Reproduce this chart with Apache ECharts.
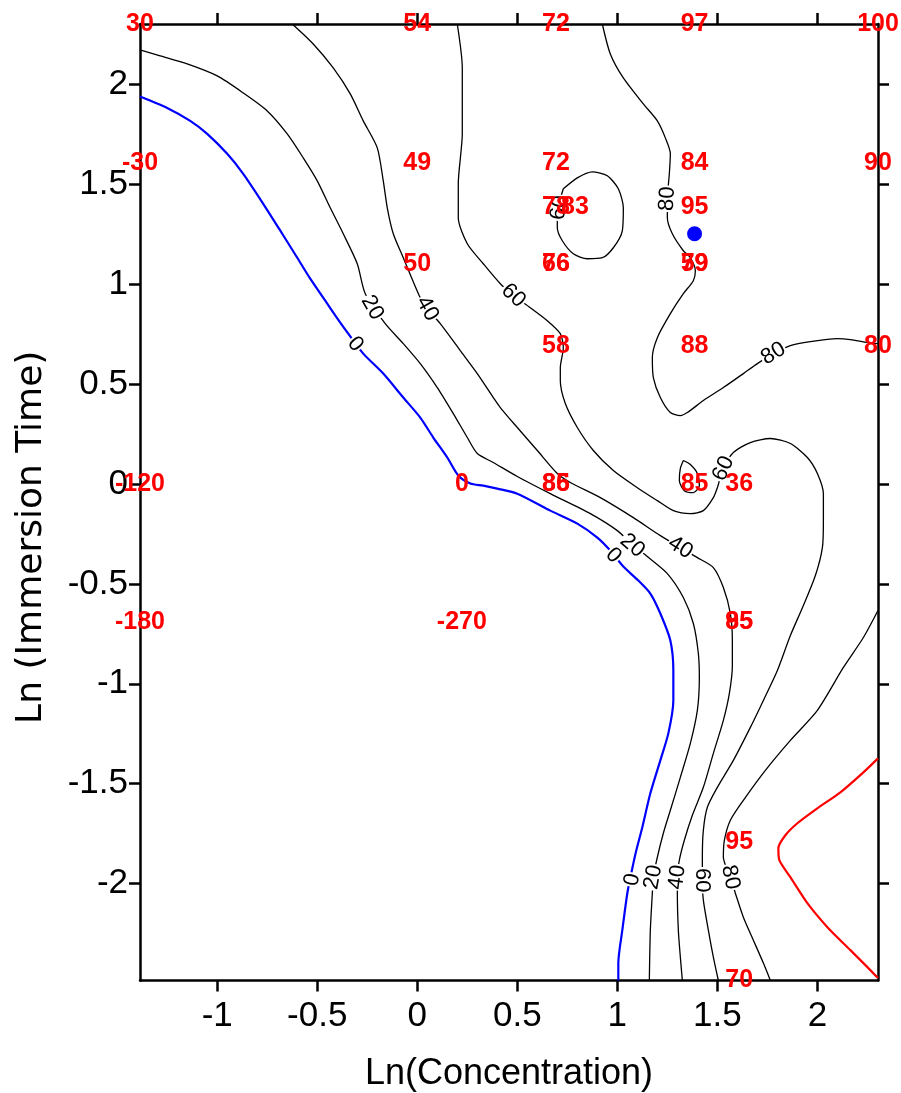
<!DOCTYPE html>
<html><head><meta charset="utf-8">
<script src="https://cdn.jsdelivr.net/npm/echarts@6/dist/echarts.min.js"></script>
<style>html,body{margin:0;padding:0;background:#fff}#c{width:901px;height:1093px}</style>
</head><body><div id="c"></div>
<script>
// ---- axes ----
const xRange = [-1.386, 2.303];
const yRange = [-2.485, 2.303];
const xTicks = [-1, -0.5, 0, 0.5, 1, 1.5, 2];
const yTicks = [-2, -1.5, -1, -0.5, 0, 0.5, 1, 1.5, 2];

// ---- contour lines (data units) ----
const c0 = [[-1.386,1.94],[-1.25,1.883],[-1.135,1.818],[-1.05,1.753],[-0.95,1.653],[-0.87,1.553],[-0.77,1.403],[-0.675,1.253],[-0.6,1.133],[-0.535,1.028],[-0.45,0.903],[-0.385,0.808],[-0.345,0.753],[-0.27,0.653],[-0.17,0.553],[-0.07,0.433],[0.015,0.333],[0.08,0.233],[0.15,0.133],[0.205,0.043],[0.265,0.003],[0.33,-0.008],[0.40,-0.023],[0.50,-0.048],[0.665,-0.133],[0.80,-0.198],[0.90,-0.268],[0.965,-0.333],[1.03,-0.413],[1.105,-0.483],[1.165,-0.548],[1.215,-0.648],[1.265,-0.783],[1.28,-0.933],[1.28,-1.083],[1.255,-1.248],[1.215,-1.383],[1.165,-1.548],[1.125,-1.718],[1.095,-1.833],[1.075,-1.923],[1.05,-2.048],[1.025,-2.233],[1.005,-2.398],[1.005,-2.485]];
const c20 = [[-1.386,2.173],[-1.285,2.143],[-1.15,2.103],[-1.0,2.043],[-0.87,1.958],[-0.75,1.868],[-0.65,1.753],[-0.57,1.633],[-0.5,1.518],[-0.435,1.383],[-0.37,1.253],[-0.30,1.103],[-0.26,0.953],[-0.16,0.803],[-0.07,0.703],[0.015,0.603],[0.10,0.483],[0.18,0.353],[0.25,0.233],[0.30,0.153],[0.38,0.108],[0.50,0.038],[0.665,-0.048],[0.865,-0.148],[1.0,-0.233],[1.075,-0.303],[1.15,-0.363],[1.25,-0.448],[1.33,-0.568],[1.38,-0.698],[1.405,-0.848],[1.41,-0.968],[1.40,-1.133],[1.365,-1.298],[1.315,-1.468],[1.265,-1.633],[1.23,-1.748],[1.20,-1.868],[1.18,-1.968],[1.175,-2.048],[1.165,-2.233],[1.16,-2.485]];
const c40 = [[-0.625,2.303],[-0.52,2.203],[-0.42,2.083],[-0.335,1.953],[-0.27,1.818],[-0.20,1.683],[-0.17,1.518],[-0.15,1.383],[-0.12,1.253],[-0.07,1.133],[0.01,0.943],[0.05,0.878],[0.115,0.803],[0.215,0.668],[0.30,0.553],[0.38,0.433],[0.415,0.383],[0.50,0.283],[0.60,0.168],[0.70,0.053],[0.765,0.008],[0.915,-0.068],[1.08,-0.168],[1.215,-0.258],[1.315,-0.318],[1.40,-0.368],[1.48,-0.418],[1.53,-0.518],[1.565,-0.648],[1.575,-0.783],[1.575,-0.908],[1.56,-1.048],[1.53,-1.183],[1.48,-1.348],[1.43,-1.518],[1.375,-1.658],[1.335,-1.783],[1.31,-1.883],[1.30,-1.968],[1.30,-2.048],[1.305,-2.233],[1.315,-2.368],[1.325,-2.485]];
const c60 = [[0.20,2.303],[0.225,2.083],[0.225,1.753],[0.205,1.503],[0.205,1.333],[0.25,1.203],[0.33,1.103],[0.415,1.003],[0.48,0.943],[0.565,0.883],[0.65,0.818],[0.715,0.753],[0.73,0.683],[0.715,0.583],[0.715,0.518],[0.74,0.403],[0.80,0.283],[0.88,0.168],[0.98,0.068],[1.10,-0.018],[1.20,-0.083],[1.28,-0.133],[1.365,-0.148],[1.43,-0.133],[1.48,-0.068],[1.50,-0.018],[1.53,0.078],[1.58,0.158],[1.665,0.208],[1.765,0.228],[1.865,0.203],[1.95,0.133],[2.0,0.053],[2.03,-0.048],[2.03,-0.183],[2.025,-0.318],[1.99,-0.458],[1.93,-0.608],[1.865,-0.758],[1.80,-0.933],[1.73,-1.083],[1.665,-1.218],[1.58,-1.383],[1.50,-1.518],[1.45,-1.618],[1.43,-1.733],[1.425,-1.868],[1.425,-1.983],[1.43,-2.083],[1.455,-2.233],[1.48,-2.368],[1.505,-2.485]];
const c60loop = [[0.73,1.478],[0.80,1.533],[0.875,1.563],[0.95,1.543],[1.005,1.478],[1.03,1.383],[1.025,1.268],[0.98,1.183],[0.925,1.133],[0.85,1.128],[0.78,1.153],[0.725,1.218],[0.70,1.283],[0.70,1.368],[0.715,1.428],[0.73,1.478]];
const c60small = [[1.33,0.118],[1.365,0.098],[1.40,0.053],[1.41,-0.008],[1.38,-0.043],[1.335,-0.033],[1.31,0.018],[1.315,0.078],[1.33,0.118]];
const c80a = [[0.925,2.303],[0.965,2.153],[1.03,2.033],[1.13,1.903],[1.20,1.818],[1.24,1.733],[1.265,1.653],[1.26,1.553],[1.25,1.428],[1.25,1.333],[1.275,1.253],[1.33,1.168],[1.365,1.133],[1.39,1.068],[1.38,1.018],[1.33,0.953],[1.265,0.853],[1.20,0.733],[1.175,0.633],[1.18,0.533],[1.215,0.433],[1.265,0.358],[1.315,0.343],[1.35,0.358],[1.43,0.418],[1.53,0.483],[1.63,0.553],[1.70,0.603],[1.78,0.653],[1.865,0.693],[1.965,0.713],[2.10,0.728],[2.165,0.723],[2.25,0.708],[2.303,0.703]];
const c80b = [[2.303,-0.633],[2.23,-0.768],[2.13,-0.918],[2.0,-1.133],[1.865,-1.283],[1.74,-1.433],[1.63,-1.583],[1.565,-1.683],[1.535,-1.783],[1.53,-1.868],[1.565,-1.968],[1.59,-2.048],[1.63,-2.168],[1.68,-2.283],[1.73,-2.398],[1.765,-2.485]];
const c100 = [[2.303,-1.373],[2.23,-1.443],[2.115,-1.543],[2.0,-1.623],[1.90,-1.698],[1.84,-1.758],[1.805,-1.823],[1.81,-1.883],[1.865,-1.968],[1.95,-2.098],[2.05,-2.218],[2.165,-2.333],[2.25,-2.418],[2.303,-2.473]];

// ---- contour label anchors ----
const lab0 = [[-0.31,0.70],[0.98,-0.358],[1.075,-1.98]];
const lab20 = [[-0.225,0.883],[1.075,-0.308],[1.18,-1.968]];
const lab40 = [[0.05,0.878],[1.315,-0.318],[1.30,-1.968]];
const lab60 = [[0.48,0.943],[0.71,1.383],[1.53,0.078],[1.425,-1.983]];
const lab80 = [[1.25,1.428],[1.78,0.653],[1.565,-1.968]];

// ---- observed values (red) ----
const obsX = [-1.386,0,0.693,1.386,2.303, -1.386,0,0.693,1.386,2.303, 0.693,0.788,1.386, 0,0.693,0.693,1.386,1.386, 0.693,1.386,2.303, -1.386,0.223,0.693,0.693,1.386,1.609, -1.386,0.223,1.609,1.609, 1.609, 1.609];
const obsY = [2.303,2.303,2.303,2.303,2.303, 1.609,1.609,1.609,1.609,1.609, 1.386,1.386,1.386, 1.099,1.099,1.099,1.099,1.099, 0.693,0.693,0.693, 0,0,0,0,0,0, -0.693,-0.693,-0.693,-0.693, -1.792, -2.485];
const obsVal = [30,54,72,97,100, -30,49,72,84,90, 78,83,95, 50,76,66,79,59, 58,88,80, -120,0,86,85,85,36, -180,-270,95,85, 95, 70];

const optimum = [[1.386, 1.253]];

const FONT = '"Liberation Sans", Arial, Helvetica, sans-serif';
const contourSets = [
  {text:'0', lines:[c0], labels:lab0, color:'#0000ff', width:2.2},
  {text:'20', lines:[c20], labels:lab20, color:'#000', width:1.3},
  {text:'40', lines:[c40], labels:lab40, color:'#000', width:1.3},
  {text:'60', lines:[c60, c60loop, c60small], labels:lab60, color:'#000', width:1.3},
  {text:'80', lines:[c80a, c80b], labels:lab80, color:'#000', width:1.3}
];

const chart = echarts.init(document.getElementById('c'), null, {renderer:'canvas'});

function axisCommon(showLabel, ticks, range) {
  return {
    type:'value', min:range[0], max:range[1],
    axisLine:{show:true, onZero:false, lineStyle:{color:'#000', width:2.5}},
    axisTick:{show:true, inside:false, length:11, customValues:ticks, lineStyle:{color:'#000', width:2.5}},
    axisLabel:{show:showLabel, customValues:ticks, fontSize:35, color:'#000', fontFamily:FONT},
    splitLine:{show:false}
  };
}

const xBottom = Object.assign(axisCommon(true, xTicks, xRange), {position:'bottom',
  name:'Ln(Concentration)', nameLocation:'middle', nameGap:76,
  nameTextStyle:{fontSize:36, color:'#000', fontFamily:FONT}});
xBottom.axisLabel.margin = 18;
const xTop = Object.assign(axisCommon(false, xTicks, xRange), {position:'top'});
const yLeft = Object.assign(axisCommon(true, yTicks, yRange), {position:'left',
  name:'Ln (Immersion Time)', nameLocation:'middle', nameGap:90,
  nameTextStyle:{fontSize:36, color:'#000', fontFamily:'"DejaVu Sans", sans-serif', padding:[0,70,0,0]}});
yLeft.axisLabel.margin = 12;
const yRight = Object.assign(axisCommon(false, yTicks, yRange), {position:'right'});

function buildSeries(rotations) {
  const series = [];
  contourSets.forEach((cs, ci) => {
    cs.lines.forEach(line => {
      series.push({type:'line', data:line, showSymbol:false, symbol:'none', smooth:0.25,
        lineStyle:{color:cs.color, width:cs.width, opacity:1}, z:2, silent:true, clip:true});
    });
    series.push({type:'scatter', symbolSize:1, itemStyle:{color:'rgba(0,0,0,0)', opacity:1}, z:3, clip:false, silent:true,
      data: cs.labels.map((p, i) => ({value:p, label:{rotate: rotations ? rotations[ci][i] : 0}})),
      label:{show:true, position:'inside', formatter:cs.text, fontSize:22, color:'#000', opacity:1,
        fontFamily:FONT, backgroundColor:'#fff', padding:[0,1]}});
  });
  series.push({type:'line', data:c100, showSymbol:false, symbol:'none', smooth:0.25,
    lineStyle:{color:'#ff0000', width:2.2, opacity:1}, z:2, silent:true});
  series.push({type:'scatter', symbolSize:1, itemStyle:{color:'rgba(0,0,0,0)', opacity:1}, z:5, clip:false, silent:true,
    data: obsX.map((x, i) => [x, obsY[i], obsVal[i]]),
    label:{show:true, position:'inside', formatter:p => String(p.value[2]), fontSize:25, fontWeight:'bold',
      color:'#ff0000', opacity:1, fontFamily:FONT}});
  series.push({type:'scatter', symbol:'circle', symbolSize:15, itemStyle:{color:'#0000ff', opacity:1}, z:6, silent:true,
    data: optimum});
  return series;
}

chart.setOption({
  animation:false,
  backgroundColor:'#fff',
  grid:{left:140, right:23, top:24, bottom:112.5, containLabel:false, outerBoundsMode:'none'},
  xAxis:[xBottom, xTop],
  yAxis:[yLeft, yRight],
  series: buildSeries(null)
});

function angleAt(pt, lines) {
  const p = chart.convertToPixel({gridIndex:0}, pt);
  let best = Infinity, ang = 0;
  lines.forEach(line => {
    const px = line.map(q => chart.convertToPixel({gridIndex:0}, q));
    for (let i = 0; i < px.length - 1; i++) {
      const a = px[i], b = px[i+1];
      const dx = b[0]-a[0], dy = b[1]-a[1];
      const L2 = dx*dx + dy*dy || 1e-9;
      let t = ((p[0]-a[0])*dx + (p[1]-a[1])*dy) / L2;
      t = Math.max(0, Math.min(1, t));
      const cx = a[0]+t*dx, cy = a[1]+t*dy;
      const d = (p[0]-cx)**2 + (p[1]-cy)**2;
      if (d < best) {
        best = d;
        const a0 = px[Math.max(0, i-1)], b0 = px[Math.min(px.length-1, i+2)];
        ang = Math.atan2(-(b0[1]-a0[1]), b0[0]-a0[0]) * 180 / Math.PI;
      }
    }
  });
  if (ang >= 90) ang -= 180;
  if (ang < -90) ang += 180;
  return ang;
}
const rotations = contourSets.map(cs => cs.labels.map(p => angleAt(p, cs.lines)));
chart.setOption({series: buildSeries(rotations)});
</script>
</body></html>
